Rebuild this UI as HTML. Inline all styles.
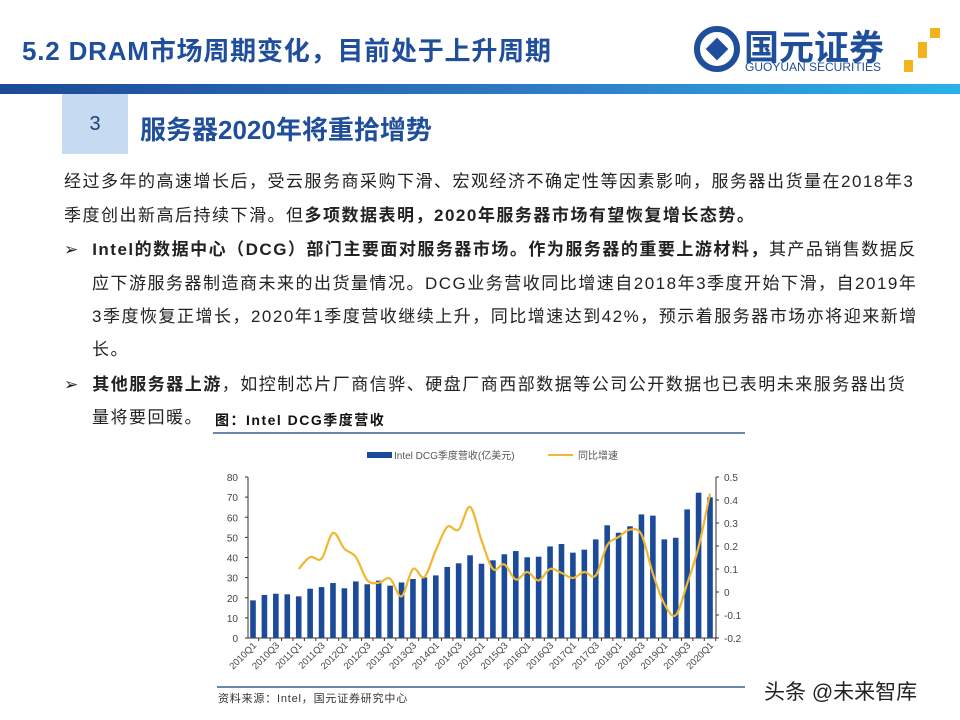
<!DOCTYPE html>
<html><head><meta charset="utf-8"><style>
body{margin:0;width:960px;height:720px;background:#fff;position:relative;overflow:hidden;font-family:"Liberation Sans","Noto Sans CJK SC",sans-serif;}
.abs{position:absolute;white-space:nowrap;}
.body{font-size:17px;letter-spacing:1.5px;color:#222;left:64px;}
.b{font-weight:bold;}
</style></head><body>
<div class="abs" style="left:22px;top:31px;font-size:26px;letter-spacing:0.8px;font-weight:bold;color:#1f4e9a;">5.2 DRAM市场周期变化，目前处于上升周期</div>
<div class="abs" style="left:692px;top:24px;width:260px;height:56px;">
 <svg width="260" height="56"><circle cx="25" cy="25" r="20" fill="none" stroke="#1f4e9a" stroke-width="6"/><rect x="17" y="17" width="16" height="16" fill="#1f4e9a" transform="rotate(45 25 25)"/><rect x="238" y="4" width="10" height="10" fill="#f2b31c"/><rect x="226" y="18" width="9" height="16" fill="#f2b31c"/><rect x="212" y="36" width="9" height="12" fill="#f2b31c"/></svg>
 <div class="abs" style="left:52px;top:-4px;font-size:35px;font-weight:bold;color:#1f4e9a;">国元证券</div>
 <div class="abs" style="left:53px;top:36px;font-size:12px;color:#1f4e9a;">GUOYUAN SECURITIES</div>
</div>
<div class="abs" style="left:0;top:84px;width:960px;height:10px;background:linear-gradient(90deg,#1c4a96,#2f7fc8 60%,#29b2e8);"></div>
<div class="abs" style="left:62px;top:94px;width:66px;height:60px;background:#c6daf1;font-size:20px;color:#1f3f7a;text-align:center;line-height:60px;">3</div>
<div class="abs" style="left:140px;top:110px;font-size:26px;font-weight:bold;color:#1f4e9a;">服务器2020年将重拾增势</div>
<div class="abs body" style="top:167px;">经过多年的高速增长后，受云服务商采购下滑、宏观经济不确定性等因素影响，服务器出货量在2018年3</div>
<div class="abs body" style="top:201px;">季度创出新高后持续下滑。但<span class="b">多项数据表明，2020年服务器市场有望恢复增长态势。</span></div>
<div class="abs body" style="top:235px;">➢&nbsp;&nbsp;<span class="b">Intel的数据中心（DCG）部门主要面对服务器市场。作为服务器的重要上游材料，</span>其产品销售数据反</div>
<div class="abs body" style="top:269px;left:92px;">应下游服务器制造商未来的出货量情况。DCG业务营收同比增速自2018年3季度开始下滑，自2019年</div>
<div class="abs body" style="top:302px;left:92px;">3季度恢复正增长，2020年1季度营收继续上升，同比增速达到42%，预示着服务器市场亦将迎来新增</div>
<div class="abs body" style="top:335px;left:92px;">长。</div>
<div class="abs body" style="top:370px;">➢&nbsp;&nbsp;<span class="b">其他服务器上游</span>，如控制芯片厂商信骅、硬盘厂商西部数据等公司公开数据也已表明未来服务器出货</div>
<div class="abs body" style="top:403px;left:92px;">量将要回暖。</div>
<div class="abs" style="left:215px;top:410px;font-size:14px;letter-spacing:1.5px;font-weight:bold;color:#111;">图：Intel DCG季度营收</div>
<div class="abs" style="left:218px;top:690px;font-size:11px;letter-spacing:0.8px;color:#333;">资料来源：Intel，国元证券研究中心</div>
<div class="abs" style="left:764px;top:676px;font-size:21px;color:#222;">头条 @未来智库</div>
<svg class="abs" id="chart" style="left:0;top:0;" width="960" height="720"></svg>
<script>
const quarters=[];for(let y=2010;y<=2020;y++)for(let q=1;q<=4;q++){if(y===2020&&q>1)break;quarters.push(y+'Q'+q);}
const revenue=[18.7,21.4,22,21.7,20.7,24.5,25.3,27.3,24.7,28.1,26.7,28.5,26,27.6,29.3,30.1,31.1,35.3,37.1,41.1,36.9,38.6,41.6,43.2,40.1,40.4,45.5,46.7,42.4,43.9,49,56,52.3,55.5,61.4,60.8,49,49.8,63.9,72.2,69.9];
const growthStart=4;
const growth=[0.10,0.152,0.145,0.257,0.188,0.152,0.051,0.04,0.058,-0.019,0.10,0.065,0.181,0.283,0.271,0.37,0.225,0.10,0.12,0.054,0.087,0.05,0.10,0.083,0.061,0.087,0.072,0.203,0.239,0.271,0.25,0.08,-0.051,-0.101,0.036,0.196,0.428];
const leftTicks=[0,10,20,30,40,50,60,70,80];
const rightTicks=[-0.2,-0.1,0,0.1,0.2,0.3,0.4,0.5];
const rightLabels=['-0.2','-0.1','0','0.1','0.2','0.3','0.4','0.5'];
const NS='http://www.w3.org/2000/svg',svg=document.getElementById('chart');
const x0=248,x1=716,yTop=477,yBot=638;
const xs=i=>253+i*(710-253)/(quarters.length-1);
const yl=v=>yBot-(v/80)*(yBot-yTop);
const yr=v=>yBot-((v+0.2)/0.7)*(yBot-yTop);
function mk(t,a){const e=document.createElementNS(NS,t);for(const k in a)e.setAttribute(k,a[k]);svg.appendChild(e);return e;}
let e;
e=mk('line',{x1:213,y1:433,x2:745,y2:433,stroke:'#3a5f8a','stroke-width':1.5});


e=mk('line',{x1:217,y1:687,x2:745,y2:687,stroke:'#3a5f8a','stroke-width':1.5});


e=mk('line',{x1:x0,y1:yTop,x2:x0,y2:yBot,stroke:'#333'});


e=mk('line',{x1:x1,y1:yTop,x2:x1,y2:yBot,stroke:'#333'});


e=mk('line',{x1:x0,y1:yBot,x2:x1,y2:yBot,stroke:'#333'});


leftTicks.forEach(v=>{const y=yl(v);mk('line',{x1:x0-3,y1:y,x2:x0,y2:y,stroke:'#333'});
 e=mk('text',{x:x0-10,y:y+4,'text-anchor':'end','font-size':10,fill:'#444'});e.textContent=v;
 
 });
rightTicks.forEach((v,i)=>{const y=yr(v);mk('line',{x1:x1,y1:y,x2:x1+3,y2:y,stroke:'#333'});
 e=mk('text',{x:x1+8,y:y+4,'font-size':10,fill:'#444'});e.textContent=rightLabels[i];
 
 });
revenue.forEach((v,i)=>{const x=xs(i);e=mk('rect',{x:x-2.8,y:yl(v),width:5.6,height:yBot-yl(v),fill:'#1a4a98'});
 
 
 mk('line',{x1:x+5.7,y1:yBot,x2:x+5.7,y2:yBot+3,stroke:'#333'});
 if(i%2===0){e=mk('text',{x:x+4,y:yBot+8,'text-anchor':'end','font-size':9.5,fill:'#444',transform:`rotate(-45 ${x+4} ${yBot+8})`});e.textContent=quarters[i];
 
 }});
const pts=growth.map((v,i)=>[xs(i+growthStart),yr(v)]);
let d='M'+pts[0][0]+','+pts[0][1];
for(let i=0;i<pts.length-1;i++){const p0=pts[Math.max(0,i-1)],p1=pts[i],p2=pts[i+1],p3=pts[Math.min(pts.length-1,i+2)];
 d+=` C${p1[0]+(p2[0]-p0[0])/6},${p1[1]+(p2[1]-p0[1])/6} ${p2[0]-(p3[0]-p1[0])/6},${p2[1]-(p3[1]-p1[1])/6} ${p2[0]},${p2[1]}`;}
e=mk('path',{d:d,fill:'none',stroke:'#f0b830','stroke-width':2.2});


e=mk('rect',{x:367,y:452,width:25,height:6,fill:'#1a4a98'});


e=mk('text',{x:394,y:459,'font-size':10,fill:'#555'});e.textContent='Intel DCG季度营收(亿美元)';


e=mk('line',{x1:548,y1:455,x2:573,y2:455,stroke:'#f0b830','stroke-width':2});


e=mk('text',{x:578,y:459,'font-size':10,fill:'#555'});e.textContent='同比增速';


</script>
</body></html>
